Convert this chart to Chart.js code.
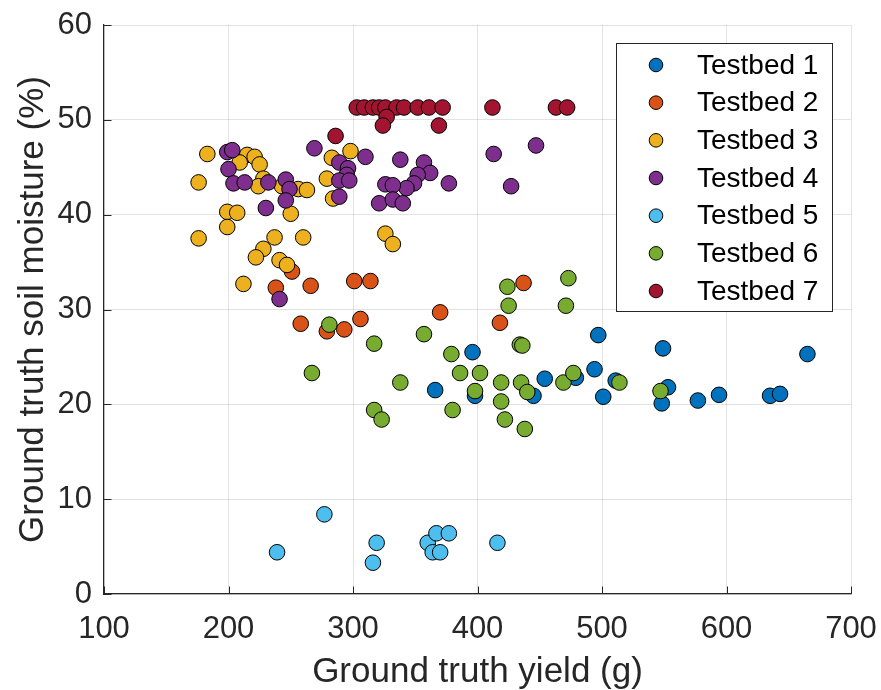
<!doctype html>
<html>
<head>
<meta charset="UTF-8" />
<script src="https://cdn.jsdelivr.net/npm/chart.js"></script>
<style>
  html, body { margin: 0; padding: 0; background: #fff; }
  canvas { display: block; }
</style>
</head>
<body>
<canvas id="yieldChart" width="881" height="690"></canvas>
<script>
// ground truth yield (g) and soil moisture (%) per testbed
const yield1 = [396, 366, 398, 454, 445, 479, 494, 497, 501, 511, 549, 553, 548, 577, 594, 635, 643, 665];
const moist1 = [25.5, 21.5, 20.9, 22.7, 20.9, 22.8, 23.7, 27.3, 20.8, 22.5, 25.9, 21.8, 20.1, 20.4, 21.0, 20.9, 21.1, 25.3];

const yield2 = [251, 238, 266, 301, 314, 258, 279, 293, 306, 370, 437, 418];
const moist2 = [34.0, 32.3, 32.5, 33.0, 33.0, 28.5, 27.7, 27.9, 29.0, 29.7, 32.8, 28.6];

const yield3 = [183, 176, 176, 199, 207, 199, 215, 209, 221, 225, 228, 224, 237, 228, 222, 241, 247, 212, 250, 243, 256, 263, 260, 283, 298, 279, 284, 326, 332];
const moist3 = [46.4, 43.4, 37.5, 40.3, 40.2, 38.7, 46.3, 45.5, 46.1, 45.3, 43.8, 43.0, 37.6, 36.4, 35.5, 35.2, 34.7, 32.7, 40.1, 43.0, 42.7, 42.6, 37.6, 46.0, 46.7, 43.8, 41.7, 38.0, 36.9];

const yield4 = [199, 203, 200, 204, 213, 232, 246, 249, 246, 230, 269, 289, 296, 295, 289, 297, 289, 310, 241, 338, 357, 362, 352, 349, 343, 377, 326, 332, 321, 332, 340, 413, 447, 427];
const moist4 = [46.6, 46.8, 44.8, 43.3, 43.4, 43.4, 43.7, 42.7, 41.5, 40.7, 47.0, 45.5, 44.9, 44.2, 43.6, 43.6, 41.9, 46.1, 31.1, 45.8, 45.5, 44.4, 44.2, 43.3, 42.8, 43.3, 43.2, 43.1, 41.2, 41.6, 41.2, 46.4, 47.3, 43.0];

const yield5 = [277, 239, 319, 316, 360, 367, 377, 364, 370, 416];
const moist5 = [8.4, 4.4, 5.4, 3.3, 5.4, 6.4, 6.4, 4.4, 4.4, 5.4];

const yield6 = [281, 317, 267, 338, 317, 323, 357, 379, 386, 402, 380, 398, 424, 425, 473, 471, 434, 436, 419, 419, 422, 435, 440, 438, 469, 477, 514, 547];
const moist6 = [28.4, 26.4, 23.3, 22.3, 19.4, 18.4, 27.4, 25.3, 23.3, 23.3, 19.4, 21.4, 32.4, 30.4, 33.3, 30.4, 26.3, 26.2, 22.3, 20.3, 18.4, 22.3, 21.3, 17.4, 22.3, 23.3, 22.3, 21.4];

const yield7 = [286, 303, 309, 316, 321, 326, 335, 341, 352, 361, 372, 412, 463, 472, 327, 324, 369];
const moist7 = [48.3, 51.3, 51.3, 51.3, 51.3, 51.3, 51.3, 51.3, 51.3, 51.3, 51.3, 51.3, 51.3, 51.3, 50.3, 49.4, 49.4];

const labels = ["Testbed 1", "Testbed 2", "Testbed 3", "Testbed 4", "Testbed 5", "Testbed 6", "Testbed 7"];
const colors = ["#0072BD", "#D95319", "#EDB120", "#7E2F8E", "#4DBEEE", "#77AC30", "#A2142F"];
const xTicks = [100, 200, 300, 400, 500, 600, 700];
const yTicks = [0, 10, 20, 30, 40, 50, 60];

const xs = [yield1, yield2, yield3, yield4, yield5, yield6, yield7];
const ys = [moist1, moist2, moist3, moist4, moist5, moist6, moist7];

const FONT = "'Liberation Sans', Arial, Helvetica, sans-serif";
const AXIS = "#262626";

// matlab style: inward ticks on the left and bottom axes only
const tickMarks = {
    id: "tickMarks",
    afterDatasetsDraw(chart) {
        const { ctx, chartArea, scales } = chart;
        ctx.save();
        ctx.strokeStyle = AXIS;
        ctx.lineWidth = 1;
        ctx.beginPath();
        xTicks.forEach((v) => {
            const px = Math.round(scales.x.getPixelForValue(v)) + 0.5;
            ctx.moveTo(px, chartArea.bottom);
            ctx.lineTo(px, chartArea.bottom - 7.5);
        });
        yTicks.forEach((v) => {
            const py = Math.round(scales.y.getPixelForValue(v)) + 0.5;
            ctx.moveTo(chartArea.left, py);
            ctx.lineTo(chartArea.left + 7.5, py);
        });
        ctx.stroke();
        ctx.restore();
    },
};

// legend box in the upper right corner of the axes
const boxLegend = {
    id: "boxLegend",
    afterDraw(chart) {
        const { ctx } = chart;
        const left = 616, top = 43, w = 216, h = 268;
        ctx.save();
        ctx.fillStyle = "#fff";
        ctx.fillRect(left, top, w, h);
        ctx.strokeStyle = AXIS;
        ctx.lineWidth = 1;
        ctx.strokeRect(left + 0.5, top + 0.5, w, h);
        ctx.font = "28px " + FONT;
        ctx.textBaseline = "middle";
        ctx.textAlign = "left";
        labels.forEach((lab, i) => {
            const cy = top + 22 + i * 37.67;
            ctx.beginPath();
            ctx.arc(656, cy, 6.8, 0, Math.PI * 2);
            ctx.fillStyle = colors[i];
            ctx.fill();
            ctx.strokeStyle = "#000";
            ctx.stroke();
            ctx.fillStyle = "#000";
            ctx.fillText(lab, 697, cy + 1);
        });
        ctx.restore();
    },
};

const noEdgePad = (s) => {
    s.paddingLeft = 0;
    s.paddingRight = 0;
    s.paddingTop = 0;
    s.paddingBottom = 0;
};

new Chart(document.getElementById("yieldChart"), {
    type: "scatter",
    data: {
        datasets: labels.map((lab, i) => ({
            label: lab,
            data: xs[i].map((x, j) => ({ x: x, y: ys[i][j] })),
            backgroundColor: colors[i],
            borderColor: "#000",
            borderWidth: 1,
            pointRadius: 7.8,
            pointHoverRadius: 7.8,
            order: labels.length - 1 - i,
        })),
    },
    options: {
        responsive: false,
        animation: false,
        devicePixelRatio: 1,
        layout: { padding: { top: 25, right: 30, left: 0, bottom: 0 } },
        plugins: { legend: { display: false }, tooltip: { enabled: false } },
        scales: {
            x: {
                type: "linear",
                min: 100,
                max: 700,
                afterFit: (s) => { s.height = 96; noEdgePad(s); },
                afterBuildTicks: (s) => { s.ticks = xTicks.map((v) => ({ value: v })); },
                ticks: { color: AXIS, font: { family: FONT, size: 31 }, padding: 17 },
                grid: { color: "rgba(38,38,38,0.13)", drawTicks: false },
                border: { color: AXIS, width: 1.2 },
                title: {
                    display: true,
                    text: "Ground truth yield (g)",
                    color: AXIS,
                    font: { family: FONT, size: 35 },
                    padding: { top: 0, bottom: -3 },
                },
            },
            y: {
                type: "linear",
                min: 0,
                max: 60,
                afterFit: (s) => { s.width = 104; noEdgePad(s); },
                afterBuildTicks: (s) => { s.ticks = yTicks.map((v) => ({ value: v })); },
                ticks: { color: AXIS, font: { family: FONT, size: 31 }, padding: 12 },
                grid: { color: "rgba(38,38,38,0.13)", drawTicks: false },
                border: { color: AXIS, width: 1.2 },
                title: {
                    display: true,
                    text: "Ground truth soil moisture (%)",
                    color: AXIS,
                    font: { family: FONT, size: 35 },
                    padding: { top: 12, bottom: 0 },
                },
            },
        },
    },
    plugins: [tickMarks, boxLegend],
});
</script>
</body>
</html>
